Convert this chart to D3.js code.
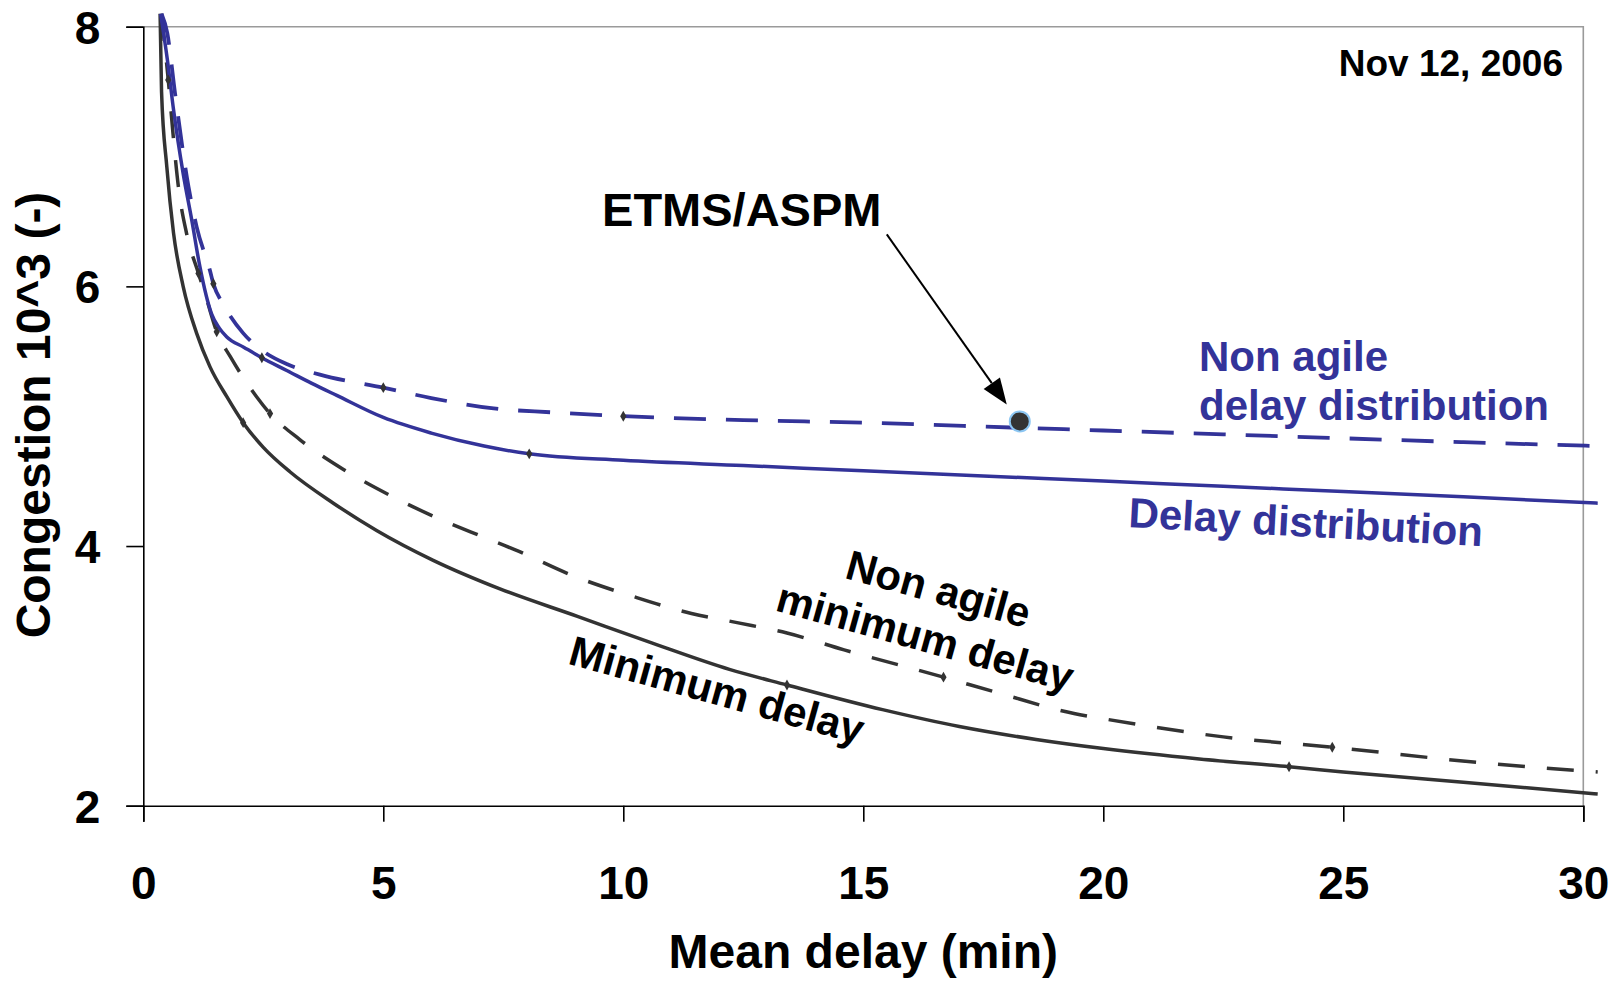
<!DOCTYPE html>
<html>
<head>
<meta charset="utf-8">
<script src="https://cdn.jsdelivr.net/npm/d3@7"></script>
<style>
  html, body { margin: 0; padding: 0; background: #fff; }
  svg { display: block; }
  text { font-family: "Liberation Sans", Arial, Helvetica, sans-serif; font-weight: bold; }
</style>
</head>
<body>
<svg id="chart" width="1617" height="982"></svg>
<script>
// ---------------- data ----------------
const xTicks = [0, 5, 10, 15, 20, 25, 30];
const yTicks = [2, 4, 6, 8];
const xTitle = "Mean delay (min)";
const yTitle = "Congestion 10^3 (-)";
const dateLabel = "Nov 12, 2006";

// Delay distribution (solid blue)
const delayDistX = [0.36, 0.5, 0.63, 0.83, 1.01, 1.18, 1.42, 1.58, 1.74, 2.1, 2.47, 3.0, 3.5, 4.03, 5.0, 6.0, 7.1, 8.04, 10, 12.5, 15, 17.5, 20, 22.5, 25, 27.5, 30.3];
const delayDistY = [8.1, 7.75, 7.36, 6.87, 6.51, 6.15, 5.79, 5.68, 5.61, 5.53, 5.45, 5.35, 5.255, 5.16, 4.99, 4.87, 4.77, 4.71, 4.66, 4.62, 4.58, 4.54, 4.50, 4.46, 4.42, 4.38, 4.33];

// Non agile delay distribution (dashed blue)
const nonAgileDistX = [0.38, 0.5, 0.66, 0.94, 1.11, 1.39, 1.46, 1.67, 2.08, 2.5, 3.0, 3.68, 5.0, 6.0, 7.3, 8.5, 10, 12.5, 15, 18.3, 20, 22.5, 25, 27.5, 30.3];
const nonAgileDistY = [8.1, 7.95, 7.49, 6.77, 6.46, 6.12, 6.02, 5.86, 5.64, 5.5, 5.4, 5.32, 5.22, 5.14, 5.06, 5.03, 5.0, 4.97, 4.95, 4.91, 4.89, 4.86, 4.83, 4.80, 4.77];

// Minimum delay (solid black)
const minDelayX = [0.35, 0.38, 0.49, 0.63, 0.83, 1.11, 1.39, 1.74, 2.08, 2.5, 3.06, 3.96, 4.86, 6.04, 7.43, 9.03, 10.62, 12.21, 13.41, 15.4, 17.0, 18.6, 20, 22, 23.87, 25, 27.5, 30.3];
const minDelayY = [8.1, 7.5, 6.92, 6.41, 6.0, 5.64, 5.38, 5.15, 4.95, 4.76, 4.57, 4.33, 4.12, 3.89, 3.67, 3.46, 3.25, 3.05, 2.93, 2.74, 2.61, 2.51, 2.44, 2.36, 2.30, 2.26, 2.18, 2.09];

// Non agile minimum delay (dashed black)
const nonAgileMinX = [0.38, 0.42, 0.52, 0.63, 0.73, 0.9, 1.15, 1.32, 1.53, 1.81, 2.36, 2.64, 3.26, 4.17, 5.14, 6.04, 7.08, 7.75, 9.03, 10.22, 11.42, 12.37, 13.41, 14.6, 16.67, 17.8, 19.39, 20, 22.5, 24.77, 27.9, 30.3];
const nonAgileMinY = [8.1, 7.95, 7.59, 7.13, 6.77, 6.41, 6.1, 5.9, 5.65, 5.46, 5.15, 5.02, 4.82, 4.59, 4.39, 4.23, 4.07, 3.97, 3.76, 3.61, 3.48, 3.41, 3.33, 3.2, 2.99, 2.87, 2.71, 2.67, 2.53, 2.45, 2.33, 2.26];

// small diamond markers on the curves
const markerX = [1.46, 5.0, 10.0, 2.47, 8.04, 2.08, 13.41, 23.87, 0.52, 1.15, 1.53, 2.64, 16.67, 24.77];
const markerY = [6.02, 5.22, 5.0, 5.45, 4.71, 4.95, 2.93, 2.30, 7.59, 6.1, 5.65, 5.02, 2.99, 2.45];

// observed point
const etmsLabel = "ETMS/ASPM";
const etmsX = [18.26];
const etmsY = [4.96];

// ---------------- chart ----------------
const svg = d3.select("#chart");
const pLeft = 143.3, pRight = 1583.3, pTop = 26.7, pBottom = 805.7;
const x = d3.scaleLinear().domain([0, 30]).range([pLeft, pRight]);
const y = d3.scaleLinear().domain([2, 8]).range([pBottom, pTop]);

const BLUE = "#333399", DARK = "#333333";

// frame (top & right, gray)
svg.append("path")
  .attr("d", `M${pLeft},${pTop}H${pRight}V${pBottom}`)
  .attr("fill", "none").attr("stroke", "#9a9a9a").attr("stroke-width", 1.6);

// axes
const yAxis = svg.append("g").attr("transform", `translate(${pLeft},0)`)
  .call(d3.axisLeft(y).tickValues(yTicks).tickFormat(d3.format("d")).tickSize(17).tickPadding(26));
const xAxis = svg.append("g").attr("transform", `translate(0,${pBottom})`)
  .call(d3.axisBottom(x).tickValues(xTicks).tickFormat(d3.format("d")).tickSize(16));

[yAxis, xAxis].forEach(g => {
  g.selectAll("path, line").attr("stroke", "#000").attr("stroke-width", 1.6);
  g.selectAll("text").attr("fill", "#000").style("font-size", "46px")
    .style("font-family", "'Liberation Sans', Arial, sans-serif").style("font-weight", "bold");
});
yAxis.selectAll("text").attr("dy", "0.36em");
xAxis.selectAll("text").attr("y", 93).attr("dy", null);

// axis titles
svg.append("text").attr("x", (pLeft + pRight) / 2).attr("y", 968)
  .attr("text-anchor", "middle").style("font-size", "48px").attr("fill", "#000").text(xTitle);
svg.append("text").attr("transform", `translate(50,415) rotate(-90)`)
  .attr("text-anchor", "middle").style("font-size", "48px").attr("fill", "#000").text(yTitle);

// curves
const line = d3.line().x(d => x(d[0])).y(d => y(d[1])).curve(d3.curveMonotoneX);
const zip = (a, b) => a.map((v, i) => [v, b[i]]);

svg.append("path").datum(zip(nonAgileMinX, nonAgileMinY)).attr("d", line)
  .attr("fill", "none").attr("stroke", DARK).attr("stroke-width", 3.5).attr("stroke-dasharray", "27,22");
svg.append("path").datum(zip(minDelayX, minDelayY)).attr("d", line)
  .attr("fill", "none").attr("stroke", DARK).attr("stroke-width", 3.5);
svg.append("path").datum(zip(nonAgileDistX, nonAgileDistY)).attr("d", line)
  .attr("fill", "none").attr("stroke", BLUE).attr("stroke-width", 3.8).attr("stroke-dasharray", "32,20");
svg.append("path").datum(zip(delayDistX, delayDistY)).attr("d", line)
  .attr("fill", "none").attr("stroke", BLUE).attr("stroke-width", 3.5);

// markers
svg.append("g").selectAll("path").data(zip(markerX, markerY)).join("path")
  .attr("transform", d => `translate(${x(d[0])},${y(d[1])})`)
  .attr("d", d3.symbol(d3.symbolDiamond, 34))
  .attr("fill", DARK);

// ETMS/ASPM point + arrow
const px = x(etmsX[0]), py = y(etmsY[0]);
svg.append("g").selectAll("circle").data(zip(etmsX, etmsY)).join("circle")
  .attr("cx", d => x(d[0])).attr("cy", d => y(d[1])).attr("r", 10)
  .attr("fill", DARK).attr("stroke", "#8cc6f2").attr("stroke-width", 2);

const ax0 = px - 133, ay0 = py - 187;   // arrow tail
const ax1 = px - 13, ay1 = py - 17;     // arrow tip
const ang = Math.atan2(ay1 - ay0, ax1 - ax0);
const hl = 26, hw = 10;
const bx = ax1 - hl * Math.cos(ang), by = ay1 - hl * Math.sin(ang);
svg.append("line").attr("x1", ax0).attr("y1", ay0).attr("x2", bx).attr("y2", by)
  .attr("stroke", "#000").attr("stroke-width", 2);
svg.append("path")
  .attr("d", `M${ax1},${ay1}L${bx + hw * Math.sin(ang)},${by - hw * Math.cos(ang)}L${bx - hw * Math.sin(ang)},${by + hw * Math.cos(ang)}Z`)
  .attr("fill", "#000");

svg.append("text").attr("x", px - 278).attr("y", py - 195)
  .attr("text-anchor", "middle").style("font-size", "47px").attr("fill", "#000").text(etmsLabel);

// date label
svg.append("text").attr("x", 1563).attr("y", 76).attr("text-anchor", "end")
  .style("font-size", "37px").attr("fill", "#000").text(dateLabel);

// series labels
const blueLbl = svg.append("text").attr("fill", BLUE).style("font-size", "42px");
blueLbl.append("tspan").attr("x", 1199).attr("y", 371).text("Non agile");
blueLbl.append("tspan").attr("x", 1199).attr("y", 420).text("delay distribution");

svg.append("text").attr("transform", "translate(1128,527) rotate(3.1)")
  .attr("fill", BLUE).style("font-size", "42px").text("Delay distribution");

const nam = svg.append("g").attr("transform", "translate(928,627) rotate(15.5)");
nam.append("text").attr("text-anchor", "middle").attr("y", -25).attr("fill", "#000")
  .style("font-size", "42px").text("Non agile");
nam.append("text").attr("text-anchor", "middle").attr("y", 25).attr("fill", "#000")
  .style("font-size", "42px").text("minimum delay");

svg.append("text").attr("transform", "translate(713,704) rotate(15.5)")
  .attr("text-anchor", "middle").attr("fill", "#000").style("font-size", "42px").text("Minimum delay");
</script>
</body>
</html>
